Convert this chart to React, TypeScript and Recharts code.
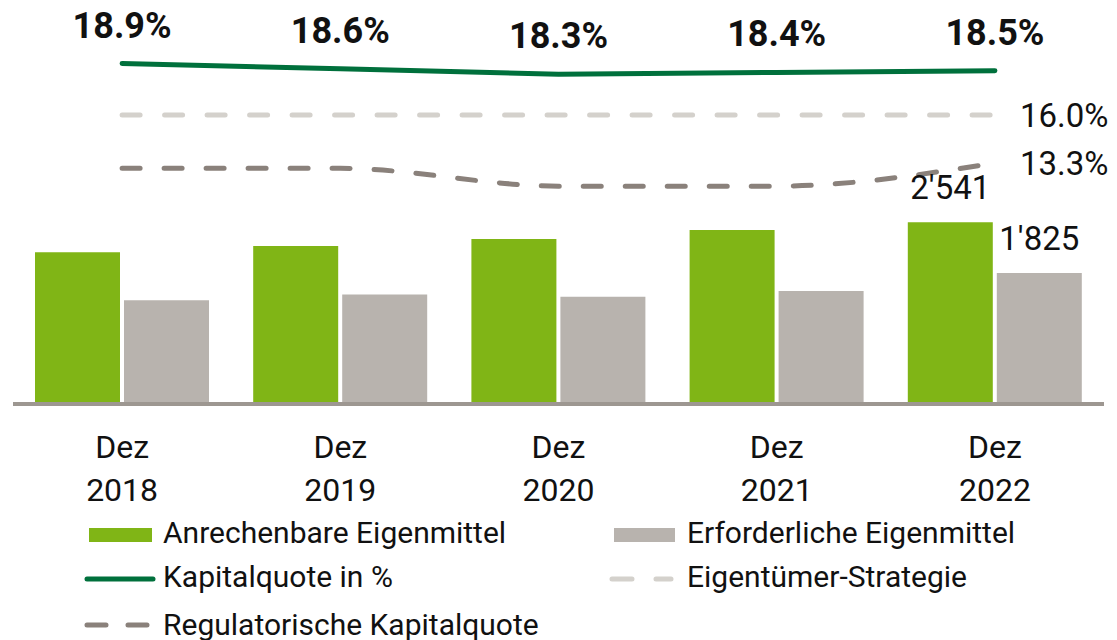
import React from 'react';
import { ComposedChart, Bar, Line, XAxis, YAxis, LabelList } from 'recharts';

// values
const years = ['2018', '2019', '2020', '2021', '2022'];
const anrechenbar = [2116, 2205, 2305, 2432, 2541];
const erforderlich = [1440, 1521, 1487, 1568, 1825];
const kapitalquote = [18.9, 18.6, 18.3, 18.4, 18.5];
const eigentuemer = [16.0, 16.0, 16.0, 16.0, 16.0];
const regulatorisch = [13.0, 13.0, 12.0, 12.0, 13.3];

const data = years.map((y, i) => ({
  year: y,
  anrechenbar: anrechenbar[i],
  erforderlich: erforderlich[i],
  kapitalquote: kapitalquote[i],
  eigentuemer: eigentuemer[i],
  regulatorisch: regulatorisch[i],
}));

const GREEN_BAR = '#80b516';
const GRAY_BAR = '#b8b3ae';
const LINE_GREEN = '#00703c';
const DASH_LIGHT = '#d4d1cc';
const DASH_DARK = '#8a817b';
const TEXT = '#111111';
const last = years.length - 1;

const fmtThousands = (v: number) => String(v).replace(/\B(?=(\d{3})+(?!\d))/g, "'");

const pos = (p: any) => {
  const vb = p.viewBox || {};
  return {
    x: p.x ?? vb.x ?? 0,
    y: p.y ?? vb.y ?? 0,
    width: p.width ?? vb.width ?? 0,
  };
};

const BarTopLabel = (props: any) => {
  if (props.index !== last) return null;
  const { x, y, width } = pos(props);
  return (
    <text x={x + width / 2} y={y - 23} textAnchor="middle" fontSize={33} fill={TEXT}>
      {fmtThousands(props.value)}
    </text>
  );
};

const QuoteLabel = (props: any) => {
  const { x, y } = pos(props);
  return (
    <text x={x} y={y - 26} textAnchor="middle" fontSize={36} fontWeight={700} fill={TEXT}>
      {Number(props.value).toFixed(1)}%
    </text>
  );
};

const EndLabel = (props: any) => {
  if (props.index !== last) return null;
  const { x, y } = pos(props);
  return (
    <text x={x + 25} y={y + 12} textAnchor="start" fontSize={33} fill={TEXT}>
      {Number(props.value).toFixed(1)}%
    </text>
  );
};

const YearTick = (props: any) => {
  const { x, y, payload } = props;
  return (
    <text textAnchor="middle" fontSize={32} fill={TEXT}>
      <tspan x={x} y={y + 56}>Dez</tspan>
      <tspan x={x} y={y + 99}>{payload.value}</tspan>
    </text>
  );
};

function LegendBox() {
  return (
    <svg width={1117} height={132} style={{ position: 'absolute', left: 0, top: 508, overflow: 'visible' }}>
      <g fontSize={30} fill={TEXT}>
        <rect x={89} y={20} width={63} height={14} fill={GREEN_BAR} />
        <text x={163} y={35}>Anrechenbare Eigenmittel</text>
        <rect x={614} y={20} width={61} height={14} fill={GRAY_BAR} />
        <text x={687} y={35}>Erforderliche Eigenmittel</text>

        <line x1={87} y1={71} x2={153} y2={71} stroke={LINE_GREEN} strokeWidth={5} strokeLinecap="round" />
        <text x={163} y={79}>Kapitalquote in %</text>
        <line x1={612} y1={71} x2={671} y2={71} stroke={DASH_LIGHT} strokeWidth={5} strokeLinecap="round" strokeDasharray="20 24" />
        <text x={687} y={79}>Eigentümer-Strategie</text>

        <line x1={87} y1={117} x2={147} y2={117} stroke={DASH_DARK} strokeWidth={5} strokeLinecap="round" strokeDasharray="19 22" />
        <text x={163} y={127}>Regulatorische Kapitalquote</text>
      </g>
    </svg>
  );
}

export default function App() {
  return (
    <div
      style={{
        position: 'relative',
        width: 1117,
        height: 640,
        margin: '-8px 0 0 -8px',
        fontFamily: 'Roboto, "Noto Sans", sans-serif',
      }}
    >
      <ComposedChart
        width={1117}
        height={640}
        data={data}
        margin={{ top: 20, right: 13, bottom: 128, left: 13 }}
        barGap={4}
        barSize={85}
        style={{ overflow: 'visible' }}
      >
        <XAxis
          dataKey="year"
          height={110}
          tickLine={false}
          tickSize={0}
          tickMargin={0}
          interval={0}
          axisLine={{ stroke: '#9d9791', strokeWidth: 4, transform: 'translate(0,2)' }}
          tick={<YearTick />}
        />
        <YAxis yAxisId="abs" hide domain={[0, 5400]} />
        <YAxis yAxisId="pct" hide orientation="right" domain={[-0.15, 21.35]} />

        <Bar yAxisId="abs" dataKey="anrechenbar" fill={GREEN_BAR} isAnimationActive={false}>
          <LabelList dataKey="anrechenbar" content={<BarTopLabel />} />
        </Bar>
        <Bar yAxisId="abs" dataKey="erforderlich" fill={GRAY_BAR} isAnimationActive={false}>
          <LabelList dataKey="erforderlich" content={<BarTopLabel />} />
        </Bar>

        <Line
          yAxisId="pct"
          type="linear"
          dataKey="kapitalquote"
          stroke={LINE_GREEN}
          strokeWidth={5}
          strokeLinecap="round"
          dot={false}
          isAnimationActive={false}
        >
          <LabelList dataKey="kapitalquote" content={<QuoteLabel />} />
        </Line>
        <Line
          yAxisId="pct"
          type="linear"
          dataKey="eigentuemer"
          stroke={DASH_LIGHT}
          strokeWidth={5}
          strokeLinecap="round"
          strokeDasharray="18 24.5"
          dot={false}
          isAnimationActive={false}
        >
          <LabelList dataKey="eigentuemer" content={<EndLabel />} />
        </Line>
        <Line
          yAxisId="pct"
          type="monotone"
          dataKey="regulatorisch"
          stroke={DASH_DARK}
          strokeWidth={5}
          strokeLinecap="round"
          strokeDasharray="18 24"
          dot={false}
          isAnimationActive={false}
        >
          <LabelList dataKey="regulatorisch" content={<EndLabel />} />
        </Line>
      </ComposedChart>
      <LegendBox />
    </div>
  );
}
